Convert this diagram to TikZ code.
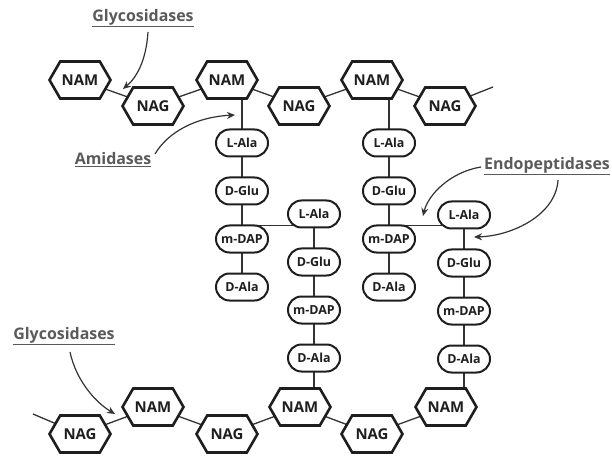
\documentclass[tikz,border=0pt]{standalone}
\usepackage{fontspec}
\setmainfont{Open Sans}
\usetikzlibrary{positioning,shapes.symbols,shapes.misc,arrows.meta,backgrounds,calc}
\definecolor{cK}{HTML}{1E1E1E}
\definecolor{cL}{HTML}{5A5A5A}
\definecolor{cA}{HTML}{333333}
\tikzset{myhex/.style={
  shape=signal,
  signal to=east and west,
  signal pointer angle=120,
  draw=cK,
  fill=white,
  line width=2.6bp,
  minimum width=61bp,
  minimum height=37bp,
  inner sep=0pt,
  text=cK,
  font=\fontsize{15}{17}\selectfont\bfseries,
  }
}
\tikzset{mypep/.style={
  shape=rounded rectangle,
  draw=cK,
  fill=white,
  line width=2bp,
  minimum width=52bp,
  minimum height=27bp,
  inner sep=0pt,
  text=cK,
  font=\fontsize{12.5}{14}\selectfont\bfseries,
  }
}
\tikzset{mylabel/.style={
  text=cL,
  inner sep=0pt,
  font=\fontsize{16}{18}\selectfont\bfseries,
  }
}
\tikzset{mylink/.style={
  draw=cA,
  line width=1.3bp,
  }
}
\tikzset{myarrow/.style={
  draw=cA,
  line width=1.2bp,
  -{Stealth[length=8bp,width=7bp]},
  }
}

\begin{document}
\begin{tikzpicture}[x=1bp, y=-1bp, node distance=48bp, on grid]
  \useasboundingbox (0,0) rectangle (612,457);

  % top glycan strand
  \node [myhex] (nam1) at (80,80) {NAM};
  \node [myhex] (nag1) at (153,106) {NAG};
  \node [myhex] (nam2) at (227,80) {NAM};
  \node [myhex] (nag2) at (299,106) {NAG};
  \node [myhex] (nam3) at (372,80) {NAM};
  \node [myhex] (nag3) at (445,106) {NAG};
  \coordinate (endt) at (493,87);

  % bottom glycan strand
  \coordinate (endb) at (33,414);
  \node [myhex] (nagb1) at (80,434) {NAG};
  \node [myhex] (namb1) at (153,407) {NAM};
  \node [myhex] (nagb2) at (227,434) {NAG};
  \node [myhex] (namb2) at (300,407) {NAM};
  \node [myhex] (nagb3) at (372,434) {NAG};
  \node [myhex] (namb3) at (446,407) {NAM};

  % stem peptides
  \node [mypep] (lala1) at (242,143) {L-Ala};
  \node [mypep, below=of lala1] (dglu1) {D-Glu};
  \node [mypep, below=of dglu1] (mdap1) {m-DAP};
  \node [mypep, below=of mdap1] (dala1) {D-Ala};

  \node [mypep] (lala2) at (314,214) {L-Ala};
  \node [mypep, below=of lala2] (dglu2) {D-Glu};
  \node [mypep, below=of dglu2] (mdap2) {m-DAP};
  \node [mypep, below=of mdap2] (dala2) {D-Ala};

  \node [mypep] (lala3) at (389,143) {L-Ala};
  \node [mypep, below=of lala3] (dglu3) {D-Glu};
  \node [mypep, below=of dglu3] (mdap3) {m-DAP};
  \node [mypep, below=of mdap3] (dala3) {D-Ala};

  \node [mypep] (lala4) at (464,215) {L-Ala};
  \node [mypep, below=of lala4] (dglu4) {D-Glu};
  \node [mypep, below=of dglu4] (mdap4) {m-DAP};
  \node [mypep, below=of mdap4] (dala4) {D-Ala};

  \coordinate (xl1) at ($(mdap1)!.55!(lala2)$);
  \coordinate (xl2) at ($(mdap3)!.55!(lala4)$);

  \begin{scope}[on background layer]
    \draw [mylink] (nam1.center) -- (nag1.center) -- (nam2.center) -- (nag2.center)
      -- (nam3.center) -- (nag3.center) -- (endt);
    \draw [mylink] (endb) -- (nagb1.center) -- (namb1.center) -- (nagb2.center)
      -- (namb2.center) -- (nagb3.center) -- (namb3.center);
    \draw [mylink] (nam2.center -| lala1) -- (lala1.center) -- (dala1.center);
    \draw [mylink] (nam3.center -| lala3) -- (lala3.center) -- (dala3.center);
    \draw [mylink] (lala2.center) -- (dala2.center) -- (namb2.center -| dala2);
    \draw [mylink] (lala4.center) -- (dala4.center) -- (namb3.center -| dala4);
    \draw [mylink] (mdap1.center |- xl1) -- (lala2.center |- xl1);
    \draw [mylink] (mdap3.center |- xl2) -- (lala4.center |- xl2);
  \end{scope}

  % enzymes
  \node [mylabel] (glyt) at (143,18) {\underline{Glycosidases}};
  \node [mylabel] (amid) at (113,160) {\underline{Amidases}};
  \node [mylabel] (endo) at (547,166) {\underline{Endopeptidases}};
  \node [mylabel] (glyb) at (64,336) {\underline{Glycosidases}};

  \coordinate (cutt) at (123,89);
  \coordinate (cuta) at (235,115);
  \coordinate (cute1) at (423,216);
  \coordinate (cute2) at (474,237);
  \coordinate (cutb) at (115,414);

  \draw [myarrow] (148,32) .. controls (146,62) and (136,78) .. (cutt);
  \draw [myarrow] (155,154) .. controls (168,132) and (196,117) .. (cuta);
  \draw [myarrow] (481,167) .. controls (450,172) and (428,195) .. (cute1);
  \draw [myarrow] (558,180) .. controls (556,215) and (512,236) .. (cute2);
  \draw [myarrow] (70,352) .. controls (76,380) and (95,402) .. (cutb);
\end{tikzpicture}
\end{document}
